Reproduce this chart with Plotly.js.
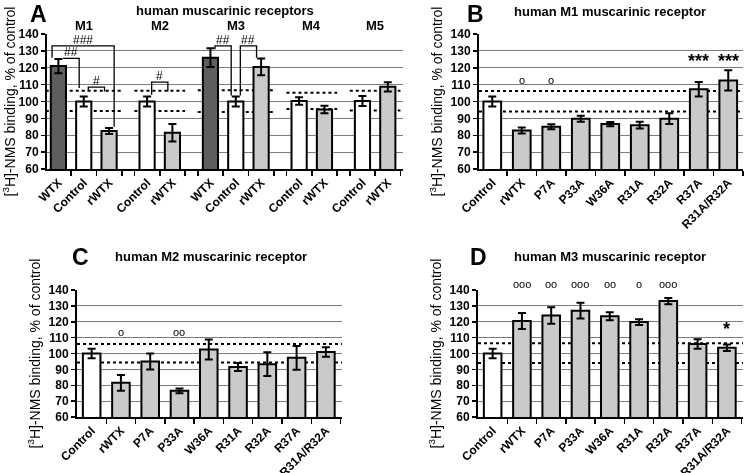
<!DOCTYPE html>
<html><head><meta charset="utf-8">
<script src="https://cdn.plot.ly/plotly-3.0.1.min.js"></script>
<style>html,body{margin:0;padding:0;background:#fff} #chart{filter:grayscale(1)}</style>
</head><body><div id="chart" style="width:745px;height:473px"></div>
<script>
// ---------- Panel A data ----------
const aGroups = ['M1', 'M2', 'M3', 'M4', 'M5'];
const aCats = [['WTX', 'Control', 'rWTX'], ['Control', 'rWTX'], ['WTX', 'Control', 'rWTX'], ['Control', 'rWTX'], ['Control', 'rWTX']];
const aValues = [[121, 100, 82.5], [100, 81.5], [126, 100, 120.5], [100.3, 95.3], [100.3, 108.7]];
const aErrors = [[4.2, 3, 1.8], [3, 5.2], [5.5, 3, 5], [2.2, 2.2], [3, 2.7]];
const aBandHigh = [106.3, 106.3, 106.6, 105.2, 106.3];
const aBandLow = [94.3, 94.3, 93.8, 95.6, 94.7];
// significance brackets (indices into flattened A categories)
const bracketFrom = [0, 0, 1, 3, 5, 6];
const bracketTo = [1, 2, 2, 4, 6, 7];
const bracketTop = [125.5, 133, 108.5, 111.5, 133, 133];
const bracketLeftEnd = [125.5, 126, 106, 104, 131, 103.5];
const bracketRightEnd = [108, 85, 106, 106, 103.5, 126];
const bracketLabels = ['##', '###', '#', '#', '##', '##'];
const bracketOuter = [false, true, false, false, false, false];

// ---------- Panels B, C, D data ----------
const mutCats = ['Control', 'rWTX', 'P7A', 'P33A', 'W36A', 'R31A', 'R32A', 'R37A', 'R31A/R32A'];
const m1Values = [100, 82.8, 85, 89.8, 86.6, 86, 89.8, 107.3, 112.5];
const m1Errors = [3, 1.8, 1.5, 1.8, 1.2, 2, 3.2, 4.3, 6];
const m1Marks = ['', 'o', 'o', '', '', '', '', '***', '***'];
const m1MarkY = [null, 113, 113, null, null, null, null, 124, 124];
const m1Band = [106.2, 94.1];

const m2Values = [100, 81.5, 95, 76.5, 102.5, 91.5, 93.3, 97.3, 101];
const m2Errors = [3, 5, 5, 1.5, 6.3, 2.5, 7.5, 7.5, 3];
const m2Marks = ['', 'o', '', 'oo', '', '', '', '', ''];
const m2MarkY = [null, 113.5, null, 113.5, null, null, null, null, null];
const m2Band = [106, 94.3];

const m3Values = [100, 120.5, 124, 127, 123.5, 119.8, 133, 106, 103.6];
const m3Errors = [3, 5, 5.2, 5, 2.5, 1.8, 2, 3, 2];
const m3Marks = ['', 'ooo', 'oo', 'ooo', 'oo', 'o', 'ooo', '', '*'];
const m3MarkY = [null, 144, 144, 144, 144, 144, 144, null, 115.5];
const m3Band = [106.4, 94];

// ---------- styling ----------
const FONT = 'Liberation Sans, Arial, Helvetica, sans-serif';
const W = 745, H = 473;
const px = v => v / W;
const py = v => (H - v) / H;
const catColor = {WTX: '#5e5e5e', Control: '#ffffff', rWTX: '#cacaca'};
const mutColor = c => c === 'Control' ? '#ffffff' : '#cacaca';
const yTitle = '[<sup>3</sup>H]-NMS binding, % of control';
const Y_MIN = 60, Y_MAX = 140;

// positions for A (gap of 1.5 between groups)
const aPos = [], aFlatCats = [], aFlatVals = [], aFlatErr = [], groupSpan = [];
let p = 0;
aCats.forEach((cats, g) => {
  const start = p;
  cats.forEach((c, i) => {
    aPos.push(p); aFlatCats.push(c); aFlatVals.push(aValues[g][i]); aFlatErr.push(aErrors[g][i]);
    p += 1;
  });
  groupSpan.push([start, p - 1]);
  p += 0.5;
});
const aBounds = [];
groupSpan.forEach(([s, e]) => { for (let b = s + 0.5; b <= e + 0.5; b += 1) aBounds.push(b); if (s > 0) aBounds.push(s - 0.5); });

const mutPos = mutCats.map((_, i) => i);
const mutBounds = mutCats.map((_, i) => i + 0.5);

function xAxis(domain, range, tickvals, ticktext, bounds, anchor) {
  return {
    domain, range, anchor, tickmode: 'array', tickvals, ticktext, tickangle: -45,
    ticks: '', showline: true, linewidth: 2, linecolor: '#000', showgrid: false, zeroline: false,
    tickfont: {family: FONT, size: 12, color: '#000', weight: 'bold'},
    minor: {tickmode: 'array', tickvals: bounds, ticks: 'outside', ticklen: 5, tickwidth: 1.5, tickcolor: '#000', showgrid: false},
    fixedrange: true
  };
}
function yAxis(domain, anchor) {
  return {
    domain, anchor, range: [Y_MIN, Y_MAX], tickmode: 'linear', tick0: 60, dtick: 10,
    ticks: 'outside', ticklen: 4, tickwidth: 1.5, tickcolor: '#000',
    showline: true, linewidth: 2, linecolor: '#000', showgrid: true, gridcolor: '#7d7d7d', gridwidth: 1,
    zeroline: false, tickfont: {family: FONT, size: 12, color: '#000', weight: 'bold'},
    title: {text: yTitle, font: {family: FONT, size: 14, color: '#000'}, standoff: 5},
    fixedrange: true
  };
}

const traces = [];
function barTrace(x, y, err, colors, xa, ya) {
  return {
    type: 'bar', x, y, width: x.map(() => 0.6), base: 0,
    marker: {color: colors, line: {color: '#000', width: 2}},
    error_y: {type: 'data', array: err, visible: true, color: '#000', thickness: 2, width: 4},
    xaxis: xa, yaxis: ya, hoverinfo: 'skip'
  };
}
traces.push(barTrace(aPos, aFlatVals, aFlatErr, aFlatCats.map(c => catColor[c]), 'x', 'y'));
traces.push(barTrace(mutPos, m1Values, m1Errors, mutCats.map(mutColor), 'x2', 'y2'));
traces.push(barTrace(mutPos, m2Values, m2Errors, mutCats.map(mutColor), 'x3', 'y3'));
traces.push(barTrace(mutPos, m3Values, m3Errors, mutCats.map(mutColor), 'x4', 'y4'));

// brackets
const annotations = [];
bracketFrom.forEach((f, i) => {
  const t = bracketTo[i];
  const x0 = aPos[f] + (bracketOuter[i] ? -0.25 : 0.18);
  const x1 = aPos[t] + (bracketOuter[i] ? 0.2 : -0.18);
  traces.push({
    type: 'scatter', mode: 'lines', x: [x0, x0, x1, x1],
    y: [bracketLeftEnd[i], bracketTop[i], bracketTop[i], bracketRightEnd[i]],
    line: {color: '#000', width: 1.3}, xaxis: 'x', yaxis: 'y', hoverinfo: 'skip', cliponaxis: false
  });
  annotations.push({
    xref: 'x', yref: 'y', x: (x0 + x1) / 2, y: bracketTop[i], text: bracketLabels[i],
    showarrow: false, yanchor: 'bottom', yshift: -3,
    font: {family: FONT, size: 12, color: '#000'}
  });
});

// shapes: dashed reference bands
const shapes = [];
const dash = {color: '#000', width: 2, dash: '3px,3px'};
groupSpan.forEach(([s, e], g) => {
  [aBandHigh[g], aBandLow[g]].forEach(v => shapes.push({
    type: 'line', xref: 'x', yref: 'y', x0: s - 0.5, x1: e + 0.5, y0: v, y1: v, line: dash, layer: 'below'
  }));
});
[[m1Band, '2'], [m2Band, '3'], [m3Band, '4']].forEach(([band, k]) => {
  band.forEach(v => shapes.push({
    type: 'line', xref: 'x' + k + ' domain', yref: 'y' + k, x0: 0, x1: 1, y0: v, y1: v, line: dash, layer: 'below'
  }));
});

// significance marks for B, C, D (marks above the axis top are pinned to the top and shifted up)
const pxPerUnitTop = 135 / (Y_MAX - Y_MIN);
const pxPerUnitLow = 127 / (Y_MAX - Y_MIN);
[[m1Marks, m1MarkY, '2', pxPerUnitTop], [m2Marks, m2MarkY, '3', pxPerUnitLow], [m3Marks, m3MarkY, '4', pxPerUnitLow]].forEach(([marks, ys, k, ppu]) => {
  marks.forEach((m, i) => {
    if (!m) return;
    const star = m.indexOf('*') >= 0;
    const v = ys[i];
    annotations.push({
      xref: 'x' + k, yref: 'y' + k, x: i, y: Math.min(v, Y_MAX), yshift: v > Y_MAX ? (v - Y_MAX) * ppu : 0,
      text: m, showarrow: false,
      font: {family: FONT, size: star ? 18 : 11, color: '#000', weight: star ? 'bold' : 'normal'}
    });
  });
});

// group labels for A
groupSpan.forEach(([s, e], g) => annotations.push({
  xref: 'x', yref: 'paper', x: (s + e) / 2, y: py(25), text: aGroups[g], showarrow: false,
  font: {family: FONT, size: 13, color: '#000', weight: 'bold'}, yanchor: 'middle'
}));

// titles and panel letters
const titleFont = {family: FONT, size: 13, color: '#000', weight: 'bold'};
const letterFont = {family: FONT, size: 23, color: '#000', weight: 'bold'};
[
  ['A', 38, 0, letterFont, 'top'], ['B', 475, 0, letterFont, 'top'],
  ['C', 80, 243, letterFont, 'top'], ['D', 478, 243, letterFont, 'top'],
  ['human muscarinic receptors', 225, 10, titleFont, 'middle'],
  ['human M1 muscarinic receptor', 610, 11, titleFont, 'middle'],
  ['human M2 muscarinic receptor', 211, 257, titleFont, 'middle'],
  ['human M3 muscarinic receptor', 610, 257, titleFont, 'middle']
].forEach(([t, x, y, f, ya]) => annotations.push({
  xref: 'paper', yref: 'paper', x: px(x), y: py(y), text: t, showarrow: false, font: f,
  xanchor: 'center', yanchor: ya, borderpad: 0
}));

const layout = {
  width: W, height: H, margin: {l: 0, r: 0, t: 0, b: 0}, showlegend: false,
  paper_bgcolor: '#fff', plot_bgcolor: '#fff', font: {family: FONT, color: '#000'},
  xaxis: xAxis([px(47), px(403)], [-0.45, 13.6], aPos, aFlatCats, aBounds, 'y'),
  yaxis: yAxis([py(169), py(34)], 'x'),
  xaxis2: xAxis([px(479), px(743)], [-0.45, 8.5], mutPos, mutCats, mutBounds, 'y2'),
  yaxis2: yAxis([py(169), py(34)], 'x2'),
  xaxis3: xAxis([px(77), px(342)], [-0.5, 8.55], mutPos, mutCats, mutBounds, 'y3'),
  yaxis3: yAxis([py(417), py(290)], 'x3'),
  xaxis4: xAxis([px(478), px(743)], [-0.5, 8.55], mutPos, mutCats, mutBounds, 'y4'),
  yaxis4: yAxis([py(417), py(290)], 'x4'),
  shapes, annotations
};

Plotly.newPlot('chart', traces, layout, {displayModeBar: false, staticPlot: true});
</script></body></html>
